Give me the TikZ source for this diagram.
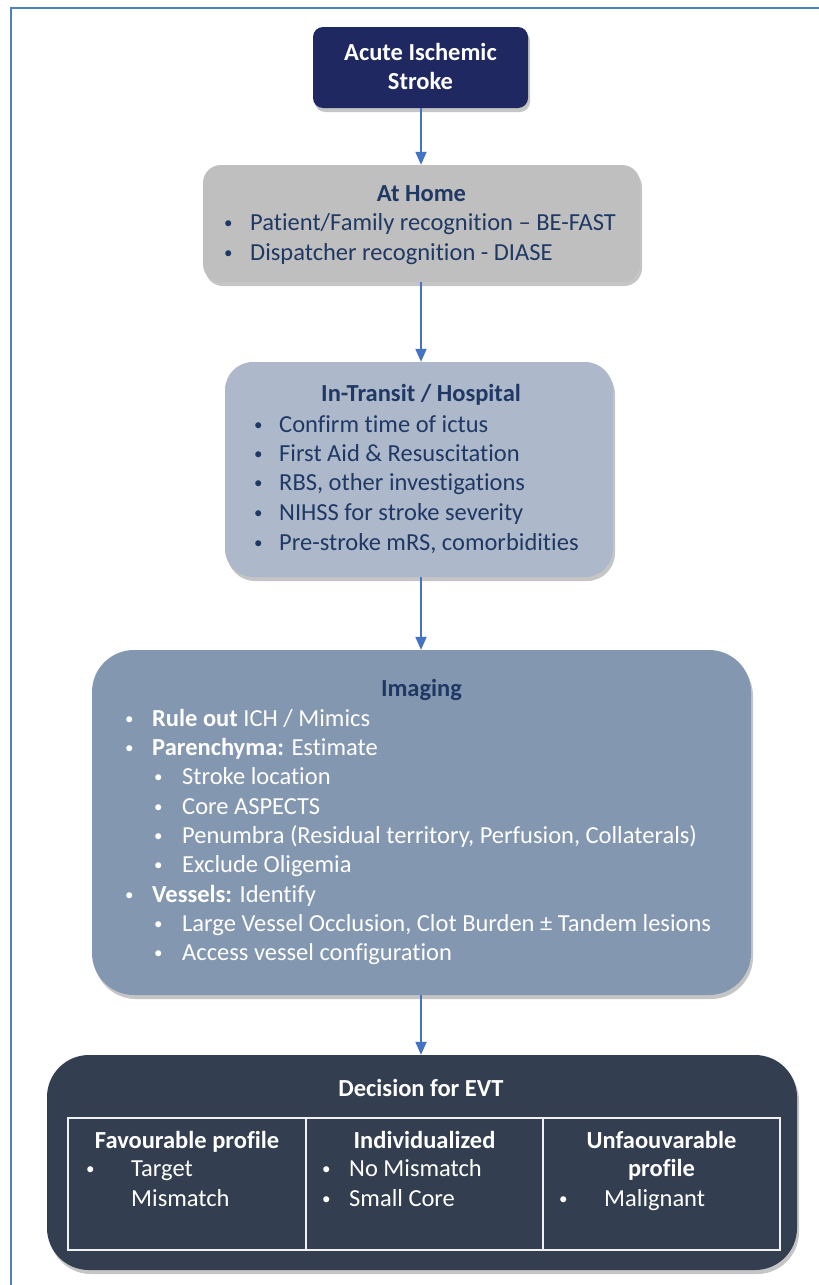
\documentclass[tikz,border=0pt]{standalone}
\usepackage{fontspec}
\setmainfont{Carlito}[Ligatures=NoCommon]
\usetikzlibrary{shadows,arrows.meta}
\definecolor{navybox}{HTML}{1F2860}
\definecolor{graybox}{HTML}{BFBFBF}
\definecolor{lightblue}{HTML}{ADB9CA}
\definecolor{midblue}{HTML}{8497B0}
\definecolor{darkbox}{HTML}{333F50}
\definecolor{navytext}{HTML}{1F3864}
\definecolor{arrowblue}{HTML}{4472C4}
\definecolor{framecol}{HTML}{4F81BD}
\newcommand\fs{\fontsize{24.5}{29}\selectfont}
\newcommand\bul{\raisebox{1.5pt}{\fontsize{17}{20}\selectfont •}}
\tikzset{
  box/.style={rectangle, draw=none, inner sep=0pt,
    drop shadow={opacity=0.45, shadow xshift=2pt, shadow yshift=-4pt}},
  arr/.style={draw=arrowblue, line width=2pt, -{Triangle[length=13pt,width=11pt]}},
  txt/.style={anchor=base west, inner sep=0pt, font=\fs},
  ctxt/.style={anchor=base, inner sep=0pt, font=\fs},
  cell/.style={rectangle, draw=white!88!gray, line width=1.5pt, inner sep=0pt},
  framel/.style={draw=framecol, line width=2pt}
}
\begin{document}
\begin{tikzpicture}[x=1pt,y=-1pt]
\useasboundingbox (0,0) rectangle (819,1285);
\fill[white] (0,0) rectangle (819,1285);
\coordinate (fa) at (11,1285);
\coordinate (fb) at (11,8);
\coordinate (fc) at (819,8);
\draw[framel] (fa) -- (fb) -- (fc);
\coordinate (ax) at (421,0);

% boxes
\node[box, fill=navybox, rounded corners=10pt, minimum width=215pt, minimum height=81pt] (b1) at (420.5,67.5) {};
\node[box, fill=graybox, rounded corners=18pt, minimum width=437pt, minimum height=117pt] (b2) at (421.5,223.5) {};
\node[box, fill=lightblue, rounded corners=28pt, minimum width=388pt, minimum height=215pt] (b3) at (419,469.5) {};
\node[box, fill=midblue, rounded corners=42pt, minimum width=659pt, minimum height=345pt] (b4) at (421.5,822.5) {};
\node[box, fill=darkbox, rounded corners=42pt, minimum width=750pt, minimum height=215pt] (b5) at (422,1162.5) {};

% arrows
\draw[arr] (b1.south -| ax) -- (b2.north -| ax);
\draw[arr] (b2.south -| ax) -- (b3.north -| ax);
\draw[arr] (b3.south -| ax) -- (b4.north -| ax);
\draw[arr] (b4.south -| ax) -- (b5.north -| ax);

% box 1
\node[ctxt, text=white, font=\fs\bfseries] (t1a) at (420.5,60) {Acute Ischemic};
\node[ctxt, text=white, font=\fs\bfseries] (t1b) at (420.5,89) {Stroke};

% box 2
\node[ctxt, text=navytext, font=\fs\bfseries] (t2) at (421.5,201) {At Home};
\node[txt, text=navytext] (t2b1) at (224,230) {\bul};
\node[txt, text=navytext] (t2i1) at (250,230) {Patient/Family recognition – BE-FAST};
\node[txt, text=navytext] (t2b2) at (224,260) {\bul};
\node[txt, text=navytext] (t2i2) at (250,260) {Dispatcher recognition - DIASE};

% box 3
\node[ctxt, text=navytext, font=\fs\bfseries] (t3) at (421,401) {In-Transit / Hospital};
\node[txt, text=navytext] (t3b1) at (254,432) {\bul};
\node[txt, text=navytext] (t3i1) at (279,432) {Confirm time of ictus};
\node[txt, text=navytext] (t3b2) at (254,461) {\bul};
\node[txt, text=navytext] (t3i2) at (279,461) {First Aid \& Resuscitation};
\node[txt, text=navytext] (t3b3) at (254,490) {\bul};
\node[txt, text=navytext] (t3i3) at (279,490) {RBS, other investigations};
\node[txt, text=navytext] (t3b4) at (254,520) {\bul};
\node[txt, text=navytext] (t3i4) at (279,520) {NIHSS for stroke severity};
\node[txt, text=navytext] (t3b5) at (254,550) {\bul};
\node[txt, text=navytext] (t3i5) at (279,550) {Pre-stroke mRS, comorbidities};

% box 4
\node[ctxt, text=navytext, font=\fs\bfseries] (t4) at (421.5,696) {Imaging};
\node[txt, text=white] (t4b1) at (125,726) {\bul};
\node[txt, text=white] (t4i1) at (152,726) {\textbf{Rule out} ICH / Mimics};
\node[txt, text=white] (t4b2) at (125,755) {\bul};
\node[txt, text=white] (t4i2) at (152,755) {\textbf{Parenchyma:} Estimate};
\node[txt, text=white] (t4b3) at (154,784) {\bul};
\node[txt, text=white] (t4i3) at (182,784) {Stroke location};
\node[txt, text=white] (t4b4) at (154,814) {\bul};
\node[txt, text=white] (t4i4) at (182,814) {Core ASPECTS};
\node[txt, text=white] (t4b5) at (154,843) {\bul};
\node[txt, text=white] (t4i5) at (182,843) {Penumbra (Residual territory, Perfusion, Collaterals)};
\node[txt, text=white] (t4b6) at (154,872) {\bul};
\node[txt, text=white] (t4i6) at (182,872) {Exclude Oligemia};
\node[txt, text=white] (t4b7) at (125,902) {\bul};
\node[txt, text=white] (t4i7) at (152,902) {\textbf{Vessels:} Identify};
\node[txt, text=white] (t4b8) at (154,931) {\bul};
\node[txt, text=white] (t4i8) at (182,931) {Large Vessel Occlusion, Clot Burden ± Tandem lesions};
\node[txt, text=white] (t4b9) at (154,960) {\bul};
\node[txt, text=white] (t4i9) at (182,960) {Access vessel configuration};

% box 5
\node[ctxt, text=white, font=\fs\bfseries] (t5) at (421,1096) {Decision for EVT};
\node[cell, minimum width=238pt, minimum height=132pt] (c1) at (187,1184) {};
\node[cell, minimum width=237pt, minimum height=132pt] (c2) at (424.5,1184) {};
\node[cell, minimum width=237pt, minimum height=132pt] (c3) at (661.5,1184) {};

\node[ctxt, text=white, font=\fs\bfseries] (h1) at (187,1148) {Favourable profile};
\node[txt, text=white] (c1b) at (86,1176) {\bul};
\node[txt, text=white] (c1i1) at (131,1176) {Target};
\node[txt, text=white] (c1i2) at (131,1206) {Mismatch};

\node[ctxt, text=white, font=\fs\bfseries] (h2) at (424.5,1148) {Individualized};
\node[txt, text=white] (c2b1) at (322,1176) {\bul};
\node[txt, text=white] (c2i1) at (349,1176) {No Mismatch};
\node[txt, text=white] (c2b2) at (322,1206) {\bul};
\node[txt, text=white] (c2i2) at (349,1206) {Small Core};

\node[ctxt, text=white, font=\fs\bfseries] (h3a) at (661.5,1148) {Unfaouvarable};
\node[ctxt, text=white, font=\fs\bfseries] (h3b) at (661.5,1176) {profile};
\node[txt, text=white] (c3b) at (559,1206) {\bul};
\node[txt, text=white] (c3i) at (604,1206) {Malignant};
\end{tikzpicture}
\end{document}
